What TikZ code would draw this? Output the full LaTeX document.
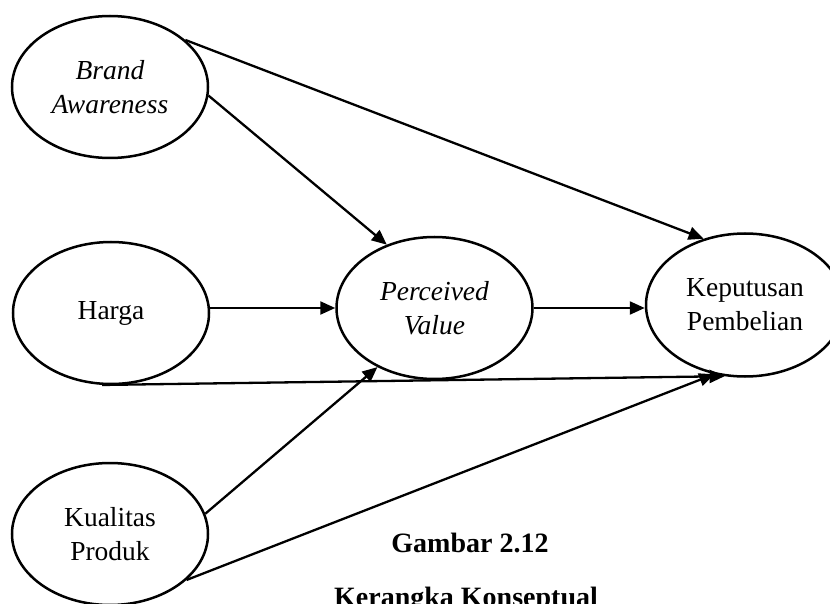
\documentclass[tikz,border=0pt]{standalone}
\usepackage{fontspec}
\setmainfont{Liberation Serif}
\usetikzlibrary{shapes.geometric,arrows.meta}
\begin{document}
\begin{tikzpicture}[x=1pt,y=-1pt,
  var/.style={ellipse,draw,line width=2.5pt,minimum width=196pt,minimum height=142pt,inner sep=0pt,align=center,font=\fontsize{27.5}{34}\selectfont},
  link/.style={line width=2.3pt,-{Triangle[length=15pt,width=13pt]}},
  capt/.style={font=\fontsize{28}{34}\selectfont\bfseries,inner sep=0pt}
]
\useasboundingbox (0,0) rectangle (830,604);
\clip (0,0) rectangle (830,604);
\node[var] (ba) at (110,87) {\textit{Brand}\\\textit{Awareness}};
\node[var] (hg) at (111,313) {Harga};
\node[var] (kq) at (110,534) {Kualitas\\Produk};
\node[var] (pv) at (434.5,308) {\textit{Perceived}\\\textit{Value}};
\node[var,minimum width=198pt,minimum height=143pt] (kp) at (745,305) {Keputusan\\Pembelian};

\draw[link] (ba.32) -- (kp.122);
\draw[link] (ba.-5) -- (pv.127);
\draw[link] (hg.east |- pv.west) -- (pv.west);
\draw[link] (pv.east) -- (kp.west |- pv.east);
\draw[link] (hg.-97) -- (kp.-106);
\draw[link] (kq.12) -- (pv.-134);
\draw[link] (kq.-31) -- (kp.-114);

\node[capt,anchor=base] (g) at (470,552) {Gambar 2.12};
\node[capt,anchor=base] (k) at (466,606) {Kerangka Konseptual};
\end{tikzpicture}
\end{document}
